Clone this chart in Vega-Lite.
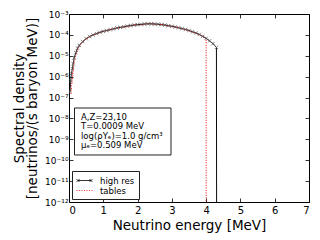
{
  "$schema": "https://vega.github.io/schema/vega-lite/v6.json",
  "width": 240,
  "height": 188,
  "autosize": {"type": "none"},
  "padding": {"left": 69, "top": 14, "right": 11, "bottom": 38},
  "background": "white",
  "config": {
    "font": "DejaVu Sans",
    "view": {"stroke": "black", "strokeWidth": 1},
    "axis": {"grid": false, "domain": false, "tickColor": "black", "tickSize": -4, "tickWidth": 0.8, "labelColor": "black", "titleColor": "black", "titleFontWeight": "normal", "labelFont": "DejaVu Sans", "titleFont": "DejaVu Sans"},
    "legend": {"orient": "none", "legendX": 3, "legendY": 157, "title": null, "strokeColor": "#222", "fillColor": "white", "padding": 4, "labelFontSize": 8.5, "labelFont": "DejaVu Sans", "labelColor": "black", "symbolSize": 100, "symbolStrokeWidth": 0.8, "rowPadding": 0, "labelOffset": 13}
  },
  "datasets": {
    "spec": [
      {"series": "high res", "E": 0.03, "S": 2.0e-7},
      {"series": "high res", "E": 0.05, "S": 6.3e-7},
      {"series": "high res", "E": 0.07, "S": 1.4e-6},
      {"series": "high res", "E": 0.1, "S": 2.5e-6},
      {"series": "high res", "E": 0.12, "S": 4.2e-6},
      {"series": "high res", "E": 0.15, "S": 7.9e-6},
      {"series": "high res", "E": 0.2, "S": 1.41e-5},
      {"series": "high res", "E": 0.25, "S": 2.3e-5},
      {"series": "high res", "E": 0.3, "S": 3.16e-5},
      {"series": "high res", "E": 0.4, "S": 4.79e-5},
      {"series": "high res", "E": 0.5, "S": 6.61e-5},
      {"series": "high res", "E": 0.6, "S": 8.32e-5},
      {"series": "high res", "E": 0.7, "S": 1.0e-4},
      {"series": "high res", "E": 0.8, "S": 1.15e-4},
      {"series": "high res", "E": 0.9, "S": 1.32e-4},
      {"series": "high res", "E": 1.0, "S": 1.48e-4},
      {"series": "high res", "E": 1.1, "S": 1.62e-4},
      {"series": "high res", "E": 1.2, "S": 1.78e-4},
      {"series": "high res", "E": 1.3, "S": 1.95e-4},
      {"series": "high res", "E": 1.4, "S": 2.14e-4},
      {"series": "high res", "E": 1.5, "S": 2.29e-4},
      {"series": "high res", "E": 1.6, "S": 2.45e-4},
      {"series": "high res", "E": 1.7, "S": 2.63e-4},
      {"series": "high res", "E": 1.8, "S": 2.82e-4},
      {"series": "high res", "E": 1.9, "S": 2.95e-4},
      {"series": "high res", "E": 2.0, "S": 3.09e-4},
      {"series": "high res", "E": 2.1, "S": 3.16e-4},
      {"series": "high res", "E": 2.2, "S": 3.31e-4},
      {"series": "high res", "E": 2.3, "S": 3.39e-4},
      {"series": "high res", "E": 2.4, "S": 3.39e-4},
      {"series": "high res", "E": 2.5, "S": 3.31e-4},
      {"series": "high res", "E": 2.6, "S": 3.24e-4},
      {"series": "high res", "E": 2.7, "S": 3.09e-4},
      {"series": "high res", "E": 2.8, "S": 2.95e-4},
      {"series": "high res", "E": 2.9, "S": 2.75e-4},
      {"series": "high res", "E": 3.0, "S": 2.57e-4},
      {"series": "high res", "E": 3.1, "S": 2.4e-4},
      {"series": "high res", "E": 3.2, "S": 2.19e-4},
      {"series": "high res", "E": 3.3, "S": 2.0e-4},
      {"series": "high res", "E": 3.4, "S": 1.82e-4},
      {"series": "high res", "E": 3.5, "S": 1.62e-4},
      {"series": "high res", "E": 3.6, "S": 1.41e-4},
      {"series": "high res", "E": 3.7, "S": 1.23e-4},
      {"series": "high res", "E": 3.8, "S": 1.05e-4},
      {"series": "high res", "E": 3.9, "S": 8.5e-5},
      {"series": "high res", "E": 4.0, "S": 6.8e-5},
      {"series": "high res", "E": 4.1, "S": 5.2e-5},
      {"series": "high res", "E": 4.2, "S": 3.8e-5},
      {"series": "high res", "E": 4.3, "S": 2.5e-5},
      {"series": "high res", "E": 4.305, "S": 1e-12},
      {"series": "tables", "E": 0.05, "S": 1.5e-7},
      {"series": "tables", "E": 0.15, "S": 5.5e-6},
      {"series": "tables", "E": 0.25, "S": 2.0e-5},
      {"series": "tables", "E": 0.35, "S": 3.8e-5},
      {"series": "tables", "E": 0.5, "S": 6.4e-5},
      {"series": "tables", "E": 0.7, "S": 9.8e-5},
      {"series": "tables", "E": 1.0, "S": 1.47e-4},
      {"series": "tables", "E": 1.3, "S": 1.94e-4},
      {"series": "tables", "E": 1.6, "S": 2.44e-4},
      {"series": "tables", "E": 2.0, "S": 3.08e-4},
      {"series": "tables", "E": 2.3, "S": 3.38e-4},
      {"series": "tables", "E": 2.6, "S": 3.23e-4},
      {"series": "tables", "E": 2.9, "S": 2.74e-4},
      {"series": "tables", "E": 3.2, "S": 2.18e-4},
      {"series": "tables", "E": 3.5, "S": 1.61e-4},
      {"series": "tables", "E": 3.7, "S": 1.22e-4},
      {"series": "tables", "E": 3.9, "S": 8.4e-5},
      {"series": "tables", "E": 4.0, "S": 6.7e-5},
      {"series": "tables", "E": 4.001, "S": 1e-12}
    ],
    "note": [
      {"lines": ["A,Z=23,10", "T=0.0009 MeV", "log(ρYₑ)=1.0 g/cm³", "μₑ=0.509 MeV"]}
    ]
  },
  "data": {"name": "spec"},
  "layer": [
    {
      "data": {"name": "note"},
      "mark": {"type": "rect", "fill": "white", "stroke": "#222", "strokeWidth": 1},
      "encoding": {
        "x": {"datum": 0.16, "type": "quantitative", "axis": null},
        "x2": {"datum": 2.975},
        "y": {"datum": 3.16e-8, "type": "quantitative", "axis": null},
        "y2": {"datum": 1.78e-10}
      }
    },
    {
      "data": {"name": "note"},
      "mark": {"type": "text", "align": "left", "baseline": "top", "fontSize": 8.5, "lineHeight": 9.4, "color": "black", "font": "DejaVu Sans"},
      "encoding": {
        "x": {"datum": 0.35, "type": "quantitative", "axis": null},
        "y": {"datum": 1.82e-8, "type": "quantitative", "axis": null},
        "text": {"field": "lines"}
      }
    },
    {
      "mark": {"type": "line", "strokeWidth": 1, "clip": true},
      "encoding": {
        "x": {
          "field": "E", "type": "quantitative",
          "scale": {"domain": [0, 7], "nice": false, "zero": false},
          "axis": {"title": "Neutrino energy [MeV]", "values": [0, 1, 2, 3, 4, 5, 6, 7], "format": "d", "labelFontSize": 10, "titleFontSize": 13.5, "labelPadding": 7, "titlePadding": 3}
        },
        "y": {
          "field": "S", "type": "quantitative",
          "scale": {"type": "log", "domain": [1e-12, 1e-3], "nice": false},
          "axis": {
            "title": ["Spectral density", "[neutrinos/(s baryon MeV)]"],
            "values": [1e-12, 1e-11, 1e-10, 1e-9, 1e-8, 1e-7, 1e-6, 1e-5, 1e-4, 1e-3],
            "labelExpr": "'10⁻' + (round(-log(datum.value)/LN10) >= 10 ? '¹' : '') + ['⁰','¹','²','³','⁴','⁵','⁶','⁷','⁸','⁹'][round(-log(datum.value)/LN10) % 10]",
            "labelFontSize": 9, "titleFontSize": 13.5, "titleLineHeight": 13, "labelPadding": 5, "titlePadding": 5
          }
        },
        "color": {"field": "series", "type": "nominal", "scale": {"domain": ["high res", "tables"], "range": ["black", "red"]}, "legend": {"encode": {"symbols": {"update": {"shape": {"signal": "datum.value === 'tables' ? 'M-1,0L2.2,0' : 'M-1,-0.3L-0.4,0.3M-1,0.3L-0.4,-0.3M-0.7,0L1.9,0M1.6,-0.3L2.2,0.3M1.6,0.3L2.2,-0.3'"}}}}}},
        "strokeDash": {"field": "series", "type": "nominal", "scale": {"domain": ["high res", "tables"], "range": [[1, 0], [1, 1.5]]}, "legend": {"encode": {"symbols": {"update": {"shape": {"signal": "datum.value === 'tables' ? 'M-1,0L2.2,0' : 'M-1,-0.3L-0.4,0.3M-1,0.3L-0.4,-0.3M-0.7,0L1.9,0M1.6,-0.3L2.2,0.3M1.6,0.3L2.2,-0.3'"}}}}}}
      }
    },
    {
      "transform": [{"filter": "datum.series === 'high res' && datum.S > 1e-11"}],
      "mark": {"type": "point", "shape": "M-1,-1L1,1M-1,1L1,-1", "size": 12, "stroke": "#555", "strokeWidth": 0.7, "filled": false, "opacity": 1, "clip": true},
      "encoding": {
        "x": {"field": "E", "type": "quantitative", "axis": null},
        "y": {"field": "S", "type": "quantitative", "axis": null}
      }
    },
    {
      "mark": {"type": "point", "opacity": 0},
      "encoding": {
        "x": {"field": "E", "type": "quantitative", "axis": {"orient": "top", "labels": false, "title": null, "values": [0, 1, 2, 3, 4, 5, 6, 7]}},
        "y": {"field": "S", "type": "quantitative", "axis": {"orient": "right", "labels": false, "title": null, "values": [1e-12, 1e-11, 1e-10, 1e-9, 1e-8, 1e-7, 1e-6, 1e-5, 1e-4, 1e-3]}}
      }
    }
  ],
  "resolve": {"axis": {"x": "independent", "y": "independent"}}
}
